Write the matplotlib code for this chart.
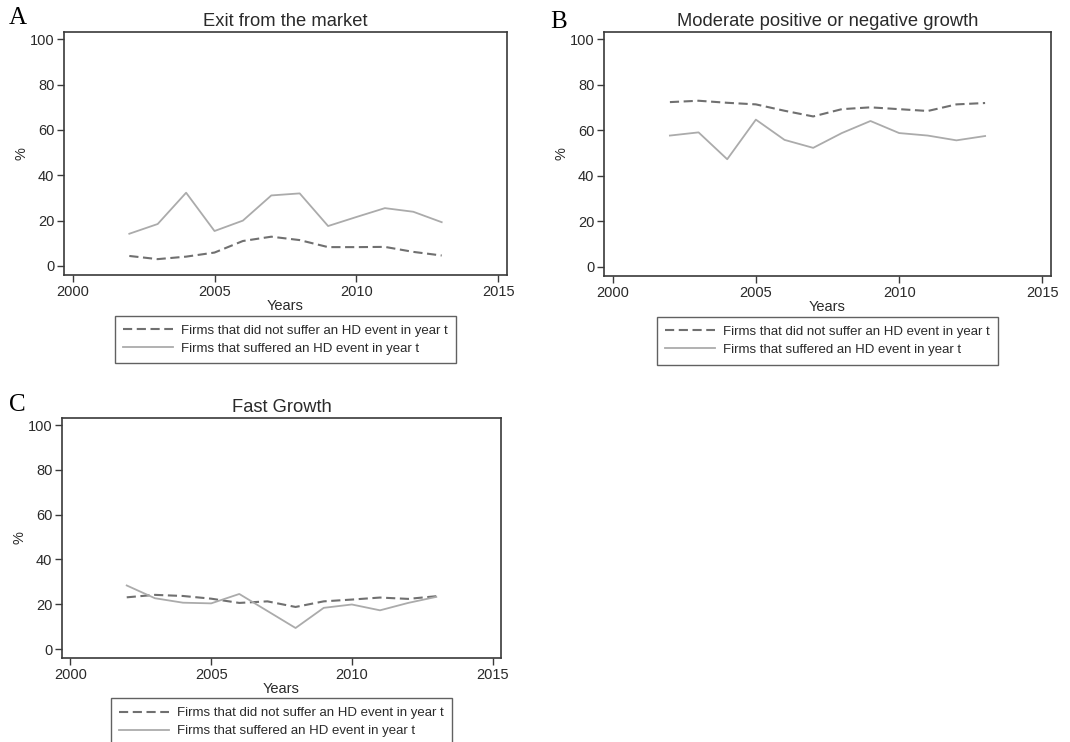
import matplotlib
matplotlib.use("Agg")
import matplotlib.pyplot as plt

plt.rcParams['font.family'] = ['Liberation Sans', 'DejaVu Sans']

years = [2002, 2003, 2004, 2005, 2006, 2007, 2008, 2009, 2010, 2011, 2012, 2013]

exit_no_hd = [4.4, 3.0, 4.1, 5.9, 11.0, 12.9, 11.4, 8.3, 8.3, 8.4, 6.2, 4.6]
exit_hd = [14.2, 18.5, 32.3, 15.4, 20.0, 31.1, 32.0, 17.6, 21.6, 25.5, 23.9, 19.3]

mod_no_hd = [72.4, 73.0, 72.1, 71.4, 68.6, 66.1, 69.3, 70.1, 69.3, 68.5, 71.4, 72.0]
mod_hd = [57.7, 59.1, 47.3, 64.7, 55.8, 52.3, 58.8, 64.1, 58.8, 57.7, 55.6, 57.5]

fast_no_hd = [23.1, 24.2, 23.7, 22.5, 20.6, 21.3, 18.8, 21.3, 22.1, 23.0, 22.4, 23.6]
fast_hd = [28.4, 22.7, 20.7, 20.4, 24.6, 17.0, 9.4, 18.4, 19.9, 17.3, 20.6, 23.3]

titles = ["Exit from the market", "Moderate positive or negative growth", "Fast Growth"]
panel_labels = ["A", "B", "C"]
legend_labels = ["Firms that did not suffer an HD event in year t",
                 "Firms that suffered an HD event in year t"]
x_ticks = [2000, 2005, 2010, 2015]
y_ticks = [0, 20, 40, 60, 80, 100]

W, H = 1070, 742
fig = plt.figure(figsize=(W / 100, H / 100), dpi=100)

# axes boxes in pixels: left, top, right, bottom
boxes = [(64, 32, 507, 275), (604, 32, 1051, 276), (62, 418, 501, 658)]
label_pos = [(18, 18), (559, 22), (17, 405)]
series = [(exit_no_hd, exit_hd), (mod_no_hd, mod_hd), (fast_no_hd, fast_hd)]

frame_col = '#3a3a3a'
text_col = '#2a2a2a'
dash_col = '#707070'
solid_col = '#ababab'

for i in range(3):
    l, t, r, b = boxes[i]
    ax = fig.add_axes([l / W, 1 - b / H, (r - l) / W, (b - t) / H])
    no_hd, hd = series[i]
    ax.plot(years, no_hd, color=dash_col, lw=1.5, dashes=(4.4, 2.2),
            label=legend_labels[0])
    ax.plot(years, hd, color=solid_col, lw=1.3, label=legend_labels[1])
    ax.set_xlim(1999.7, 2015.3)
    ax.set_ylim(-4, 103.2)
    ax.set_xticks(x_ticks)
    ax.set_yticks(y_ticks)
    ax.tick_params(direction='out', length=5, width=1, colors=frame_col,
                   labelcolor=text_col, labelsize=10.5, pad=2)
    for s in ax.spines.values():
        s.set_color(frame_col)
        s.set_linewidth(1.2)
    ax.set_title(titles[i], fontsize=13.2, color=text_col, pad=4)
    ax.set_xlabel("Years", fontsize=10.5, color=text_col, labelpad=0)
    ax.set_ylabel("%", fontsize=10.5, color=text_col, labelpad=1)
    leg = ax.legend(loc='upper center', bbox_to_anchor=(0.5, -0.168),
                    ncol=1, fontsize=9.5, frameon=True, fancybox=False,
                    handlelength=3.8, handletextpad=0.6, labelspacing=0.45,
                    borderpad=0.65, borderaxespad=0)
    leg.get_frame().set_edgecolor(frame_col)
    leg.get_frame().set_linewidth(1.0)
    for txt in leg.get_texts():
        txt.set_color(text_col)
    lx, ly = label_pos[i]
    fig.text(lx / W, 1 - ly / H, panel_labels[i], fontsize=18,
             family=['Liberation Serif', 'DejaVu Serif'], color='black',
             ha='center', va='center')

fig.savefig("out.png", dpi=100)
